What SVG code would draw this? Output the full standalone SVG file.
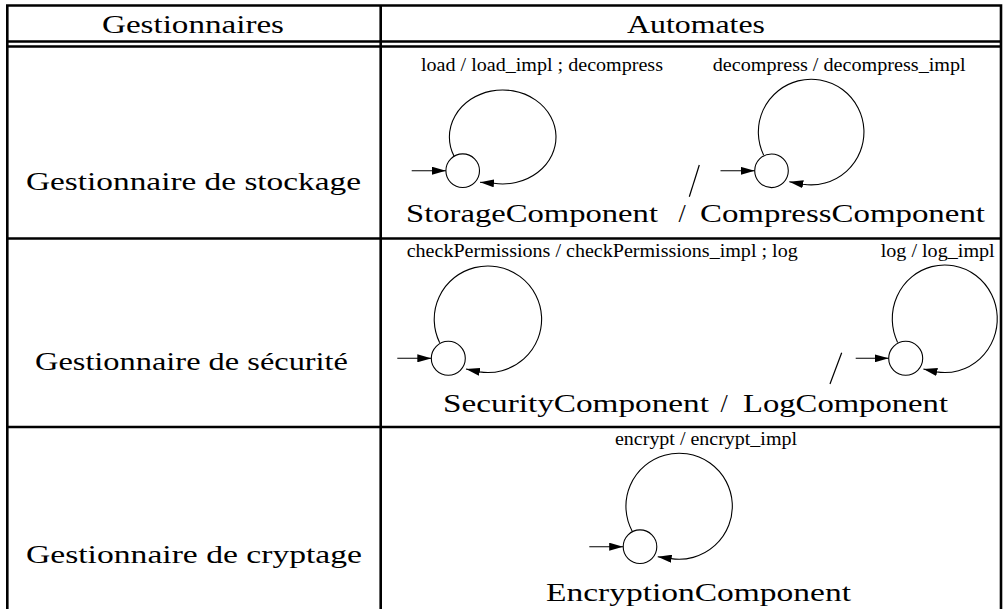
<svg xmlns="http://www.w3.org/2000/svg" width="1003" height="609" viewBox="0 0 1003 609">
<style>
.grid{stroke:#000;stroke-width:2.6;fill:none}
.big{font-family:"Liberation Serif","Times New Roman",serif;font-size:26px;fill:#000}
.lbl{font-family:"Liberation Serif","Times New Roman",serif;font-size:18px;fill:#000}
.state{fill:#fff;stroke:#000;stroke-width:1.1}
.edge{fill:none;stroke:#000;stroke-width:1.1}
.sl{stroke:#000;stroke-width:1.2}
</style>
<defs>
<marker id="ah" viewBox="0 0 14 8" refX="14" refY="4" markerWidth="14" markerHeight="8" markerUnits="userSpaceOnUse" orient="auto">
<path d="M0,0 L14,4 L0,8 z" fill="#000"/>
</marker>
</defs>
<rect width="1003" height="609" fill="#fff"/>
<g id="table">
<path class="grid" d="M6,5.5 H1001 M6,41.5 H1001 M6,46.5 H1001 M6,238.5 H1001 M6,427 H1001 M7.3,4.2 V609 M380.7,4.2 V609 M1001,4.2 V609"/>
</g>
<g id="header">
<text class="big" x="102" y="33" textLength="182" lengthAdjust="spacingAndGlyphs">Gestionnaires</text>
<text class="big" x="627" y="33" textLength="138" lengthAdjust="spacingAndGlyphs">Automates</text>
</g>
<g id="row-stockage">
<text class="big" x="26" y="189.5" textLength="335" lengthAdjust="spacingAndGlyphs">Gestionnaire de stockage</text>
</g>
<g id="row-securite">
<text class="big" x="35" y="370" textLength="313" lengthAdjust="spacingAndGlyphs">Gestionnaire de sécurité</text>
</g>
<g id="row-cryptage">
<text class="big" x="26" y="563" textLength="336" lengthAdjust="spacingAndGlyphs">Gestionnaire de cryptage</text>
</g>
<g id="StorageComponent">
<circle class="state" cx="462.7" cy="170.7" r="16.8"/>
<text class="lbl" x="421" y="70.5" textLength="242" lengthAdjust="spacingAndGlyphs">load / load_impl ; decompress</text>
<text class="big" x="406" y="222" textLength="252" lengthAdjust="spacingAndGlyphs">StorageComponent</text>
</g>
<g id="composition-1">
<text class="big" x="682" y="222" text-anchor="middle">/</text>
<line class="sl" x1="699.3" y1="165" x2="689.3" y2="196.7"/>
</g>
<g id="CompressComponent">
<circle class="state" cx="771.5" cy="170.8" r="16.8"/>
<text class="lbl" x="712.7" y="70.5" textLength="253" lengthAdjust="spacingAndGlyphs">decompress / decompress_impl</text>
<text class="big" x="700" y="222" textLength="285" lengthAdjust="spacingAndGlyphs">CompressComponent</text>
</g>
<g id="SecurityComponent">
<circle class="state" cx="448.3" cy="358.3" r="17"/>
<text class="lbl" x="406.7" y="256.5" textLength="391" lengthAdjust="spacingAndGlyphs">checkPermissions / checkPermissions_impl ; log</text>
<text class="big" x="443" y="412" textLength="266" lengthAdjust="spacingAndGlyphs">SecurityComponent</text>
</g>
<g id="composition-2">
<text class="big" x="724" y="412" text-anchor="middle">/</text>
<line class="sl" x1="841.7" y1="352.7" x2="830" y2="384"/>
</g>
<g id="LogComponent">
<circle class="state" cx="905.7" cy="358.3" r="17"/>
<text class="lbl" x="880.7" y="256.5" textLength="114" lengthAdjust="spacingAndGlyphs">log / log_impl</text>
<text class="big" x="743" y="412" textLength="205" lengthAdjust="spacingAndGlyphs">LogComponent</text>
</g>
<g id="EncryptionComponent">
<circle class="state" cx="640" cy="546.7" r="16.8"/>
<text class="lbl" x="615" y="445" textLength="182" lengthAdjust="spacingAndGlyphs">encrypt / encrypt_impl</text>
<text class="big" x="546" y="601" textLength="305" lengthAdjust="spacingAndGlyphs">EncryptionComponent</text>
</g>
<g id="connectors">
<line class="edge" x1="411.7" y1="170.7" x2="445.9" y2="170.7" marker-end="url(#ah)"/>
<path class="edge" d="M454,156.1 A53.3,47 0 1,1 493.7,183.3 L480,182.2" marker-end="url(#ah)"/>
<line class="edge" x1="720.5" y1="170.8" x2="754.7" y2="170.8" marker-end="url(#ah)"/>
<path class="edge" d="M763.7,155.2 A52.8,52.8 0 1,1 803,184.2 L789.3,181.7" marker-end="url(#ah)"/>
<line class="edge" x1="397.3" y1="358.3" x2="431.3" y2="358.3" marker-end="url(#ah)"/>
<path class="edge" d="M439.7,342.7 A53.7,53.3 0 1,1 479.6,371.9 L466,369" marker-end="url(#ah)"/>
<line class="edge" x1="855.7" y1="358.3" x2="888.7" y2="358.3" marker-end="url(#ah)"/>
<path class="edge" d="M897.6,342.4 A52.5,53.8 0 1,1 936.6,371.9 L923.4,369" marker-end="url(#ah)"/>
<line class="edge" x1="589.3" y1="546.7" x2="623.2" y2="546.7" marker-end="url(#ah)"/>
<path class="edge" d="M632.2,531.2 A53.2,53 0 1,1 670.9,558.6 L657.7,556.7" marker-end="url(#ah)"/>
</g>
</svg>
